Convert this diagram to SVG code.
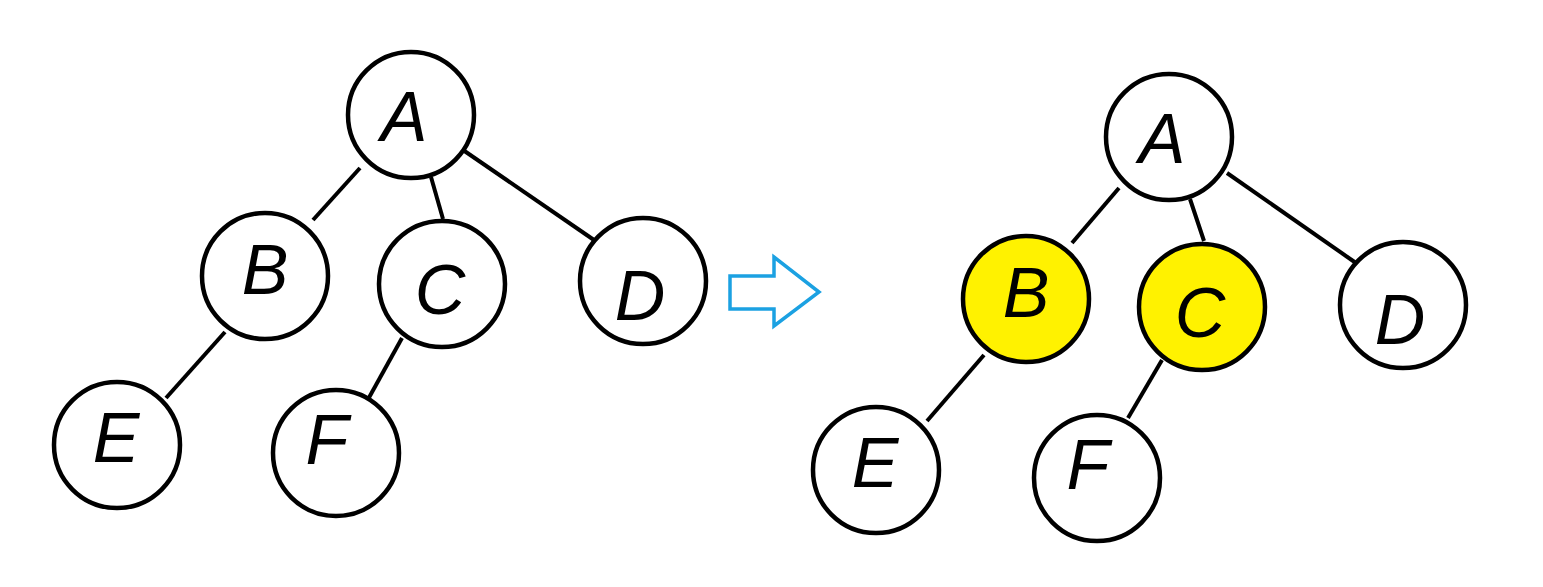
<svg xmlns="http://www.w3.org/2000/svg" width="1543" height="587" viewBox="0 0 1543 587">
<style>
.n{fill:#fff;stroke:#000;stroke-width:4.5}
.h{fill:#fff200;stroke:#000;stroke-width:4.5}
.e{stroke:#000;stroke-width:4;fill:none}
.t{font-family:"Liberation Sans",Arial,sans-serif;font-style:italic;font-size:70px;fill:#000;text-anchor:middle;dominant-baseline:central}
</style>
<rect width="1543" height="587" fill="#fff"/>
<g id="connectors">
<line class="e" x1="360" y1="168" x2="313" y2="220"/>
<line class="e" x1="431" y1="177" x2="443" y2="219"/>
<line class="e" x1="463" y1="150" x2="594" y2="240"/>
<line class="e" x1="225" y1="332" x2="166" y2="398"/>
<line class="e" x1="402" y1="338" x2="366" y2="403"/>
<line class="e" x1="1119" y1="188" x2="1072" y2="243"/>
<line class="e" x1="1190" y1="199" x2="1204" y2="241"/>
<line class="e" x1="1227" y1="173" x2="1356" y2="263"/>
<line class="e" x1="984" y1="355" x2="927" y2="421"/>
<line class="e" x1="1162" y1="360" x2="1128" y2="418"/>
</g>
<g id="L-A"><circle class="n" cx="411" cy="115" r="63"/><text class="t" x="404" y="117">A</text></g>
<g id="L-B"><circle class="n" cx="265" cy="276" r="63"/><text class="t" x="265" y="270">B</text></g>
<g id="L-C"><circle class="n" cx="442" cy="284" r="63"/><text class="t" x="440" y="290">C</text></g>
<g id="L-D"><circle class="n" cx="643" cy="281" r="63"/><text class="t" x="640" y="296">D</text></g>
<g id="L-E"><circle class="n" cx="117" cy="445" r="63"/><text class="t" x="116" y="438">E</text></g>
<g id="L-F"><circle class="n" cx="336" cy="453" r="63"/><text class="t" x="327" y="440">F</text></g>
<g id="arrow"><path d="M730,276 H774 V257 L819,292 L774,326 V309 H730 Z" fill="none" stroke="#1ba1e2" stroke-width="3.5"/></g>
<g id="R-A"><circle class="n" cx="1169" cy="137" r="63"/><text class="t" x="1162" y="139">A</text></g>
<g id="R-B"><circle class="h" cx="1026" cy="299" r="63"/><text class="t" x="1026" y="293">B</text></g>
<g id="R-C"><circle class="h" cx="1202" cy="307" r="63"/><text class="t" x="1200" y="313">C</text></g>
<g id="R-D"><circle class="n" cx="1403" cy="305" r="63"/><text class="t" x="1400" y="320">D</text></g>
<g id="R-E"><circle class="n" cx="876" cy="470" r="63"/><text class="t" x="875" y="463">E</text></g>
<g id="R-F"><circle class="n" cx="1097" cy="478" r="63"/><text class="t" x="1088" y="465">F</text></g>
</svg>
